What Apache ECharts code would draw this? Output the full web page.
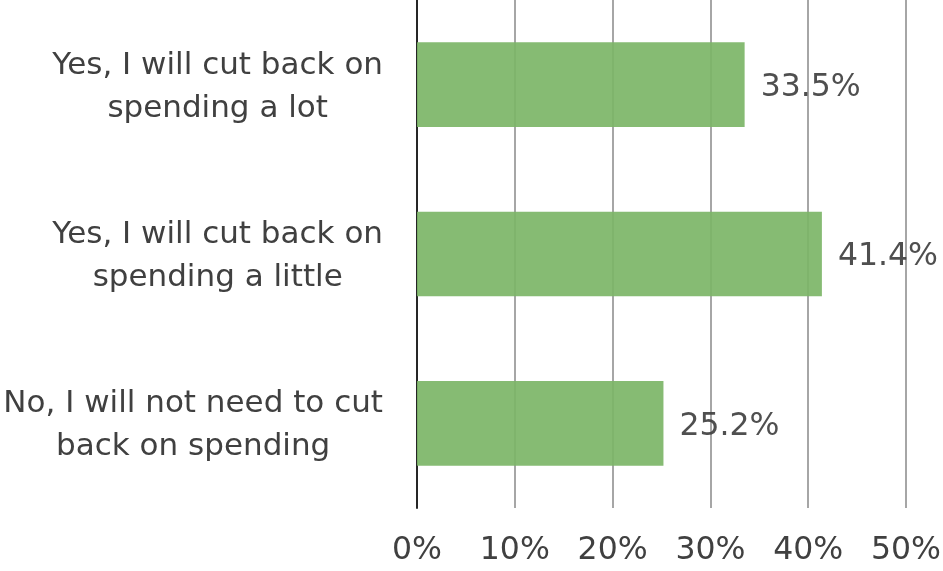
<!DOCTYPE html>
<html><head><meta charset="utf-8">
<script src="https://cdn.jsdelivr.net/npm/echarts@6/dist/echarts.min.js"></script>
<style>html,body{margin:0;padding:0;background:#fff}#c{width:943px;height:571px}</style>
</head><body><div id="c"></div>
<script>
const categories = ["Yes, I will cut back on\nspending a lot", "Yes, I will cut back on\nspending a little", "No, I will not need to cut\nback on spending"];
const values = [33.5, 41.4, 25.2];
const tickMin = 0, tickMax = 50, tickStep = 10;

const chart = echarts.init(document.getElementById('c'), null, {renderer: 'canvas'});
const font = "Tahoma, 'DejaVu Sans', sans-serif";
chart.setOption({
  animation: false,
  grid: {left: 417, right: 37, top: 0, bottom: 63, containLabel: false, outerBoundsMode: 'none'},
  xAxis: {
    type: 'value', min: tickMin, max: tickMax, interval: tickStep,
    axisLine: {show: false}, axisTick: {show: false},
    splitLine: {show: true, lineStyle: {color: '#a6a6a6', width: 2}},
    axisLabel: {formatter: '{value}%', color: '#404040', fontSize: 31.5, fontFamily: font, margin: 27}
  },
  yAxis: {
    type: 'category', data: categories, inverse: true,
    axisLine: {show: true, lineStyle: {color: '#262626', width: 2}},
    axisTick: {show: false},
    axisLabel: {
      margin: 34, align: 'right', padding: [5, 0, 0, 0],
      formatter: v => v.split('\n').map(s => '{c|' + s + '}').join('\n'),
      rich: {c: {color: '#404040', fontSize: 31, fontFamily: font, lineHeight: 43, align: 'center'}}
    }
  },
  series: [{
    type: 'bar', data: values, barWidth: '50%',
    itemStyle: {color: '#7cb567', opacity: 0.92},
    label: {show: true, position: 'right', distance: 16, offset: [0, 3], formatter: p => p.value.toFixed(1) + '%', color: '#404040', fontSize: 31.5, fontFamily: font}
  }]
});
</script></body></html>
